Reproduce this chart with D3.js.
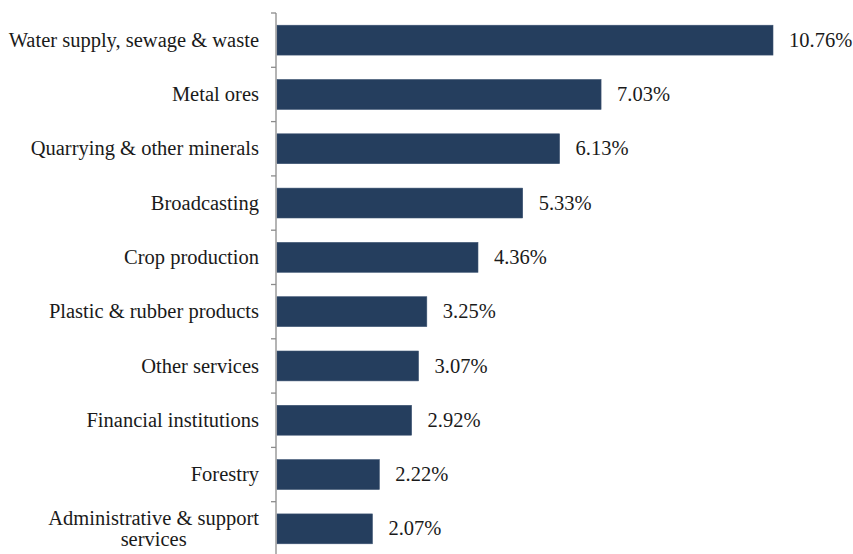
<!DOCTYPE html>
<html>
<head>
<meta charset="utf-8">
<script src="https://cdn.jsdelivr.net/npm/d3@7"></script>
<style>
  html, body { margin: 0; padding: 0; background: #fff; }
  svg { display: block; }
</style>
</head>
<body>
<svg id="chart" width="853" height="554"></svg>
<script>
const categories = [
  "Water supply, sewage & waste",
  "Metal ores",
  "Quarrying & other minerals",
  "Broadcasting",
  "Crop production",
  "Plastic & rubber products",
  "Other services",
  "Financial institutions",
  "Forestry",
  "Administrative & support services"
];
const values = [10.76, 7.03, 6.13, 5.33, 4.36, 3.25, 3.07, 2.92, 2.22, 2.07];
const valueLabels = ["10.76%", "7.03%", "6.13%", "5.33%", "4.36%", "3.25%", "3.07%", "2.92%", "2.22%", "2.07%"];

const FONT = "Liberation Serif";
const fontSize = 20.5;
const textColor = "#1a1a1a";

const svg = d3.select("#chart");
const axisX = 276;

const x = d3.scaleLinear().domain([0, 10.76]).range([axisX + 1, 773]);
const y = d3.scaleBand().domain(categories).range([13, 556]).paddingInner(0.45).paddingOuter(0.225);

// bars
svg.append("g").selectAll("rect")
  .data(categories)
  .join("rect")
  .attr("x", x(0))
  .attr("y", d => y(d))
  .attr("width", (d, i) => x(values[i]) - x(0))
  .attr("height", y.bandwidth())
  .attr("fill", "#253e5e")
  .attr("stroke", "#3a5170")
  .attr("stroke-width", 0.6);

// value labels
svg.append("g").selectAll("text")
  .data(categories)
  .join("text")
  .attr("font-family", FONT)
  .attr("fill", textColor)
  .attr("x", (d, i) => x(values[i]) + 16)
  .attr("y", d => y(d) + y.bandwidth() / 2)
  .attr("dy", "0.32em")
  .attr("font-size", fontSize)
  .text((d, i) => valueLabels[i]);

// category axis: line with ticks at band boundaries
const axisG = svg.append("g").attr("stroke", "#8c8c8c").attr("stroke-width", 1.3);
axisG.append("line")
  .attr("x1", axisX).attr("x2", axisX)
  .attr("y1", 13).attr("y2", 554);
const step = y.step();
const boundaries = d3.range(categories.length).map(i => 13 + i * step);
axisG.selectAll("line.tick")
  .data(boundaries)
  .join("line")
  .attr("class", "tick")
  .attr("x1", axisX - 5).attr("x2", axisX)
  .attr("y1", d => d).attr("y2", d => d);

// category labels, wrapped lines centred on each other, block right-aligned
const labelRight = 259;
const wrapped = {
  "Administrative & support services": ["Administrative & support", "services"]
};
const lg = svg.append("g");
categories.forEach(c => {
  const cy = y(c) + y.bandwidth() / 2;
  const lines = wrapped[c] || [c];
  const t = lg.append("text")
    .attr("font-family", FONT)
    .attr("fill", textColor)
    .attr("font-size", fontSize)
    .attr("text-anchor", "middle");
  const lh = 21;
  const spans = lines.map((ln, i) => t.append("tspan")
    .attr("y", cy + (i - (lines.length - 1) / 2) * lh)
    .attr("dy", "0.32em")
    .text(ln));
  const w = d3.max(spans, s => s.node().getComputedTextLength());
  spans.forEach(s => s.attr("x", labelRight - w / 2));
});
</script>
</body>
</html>
